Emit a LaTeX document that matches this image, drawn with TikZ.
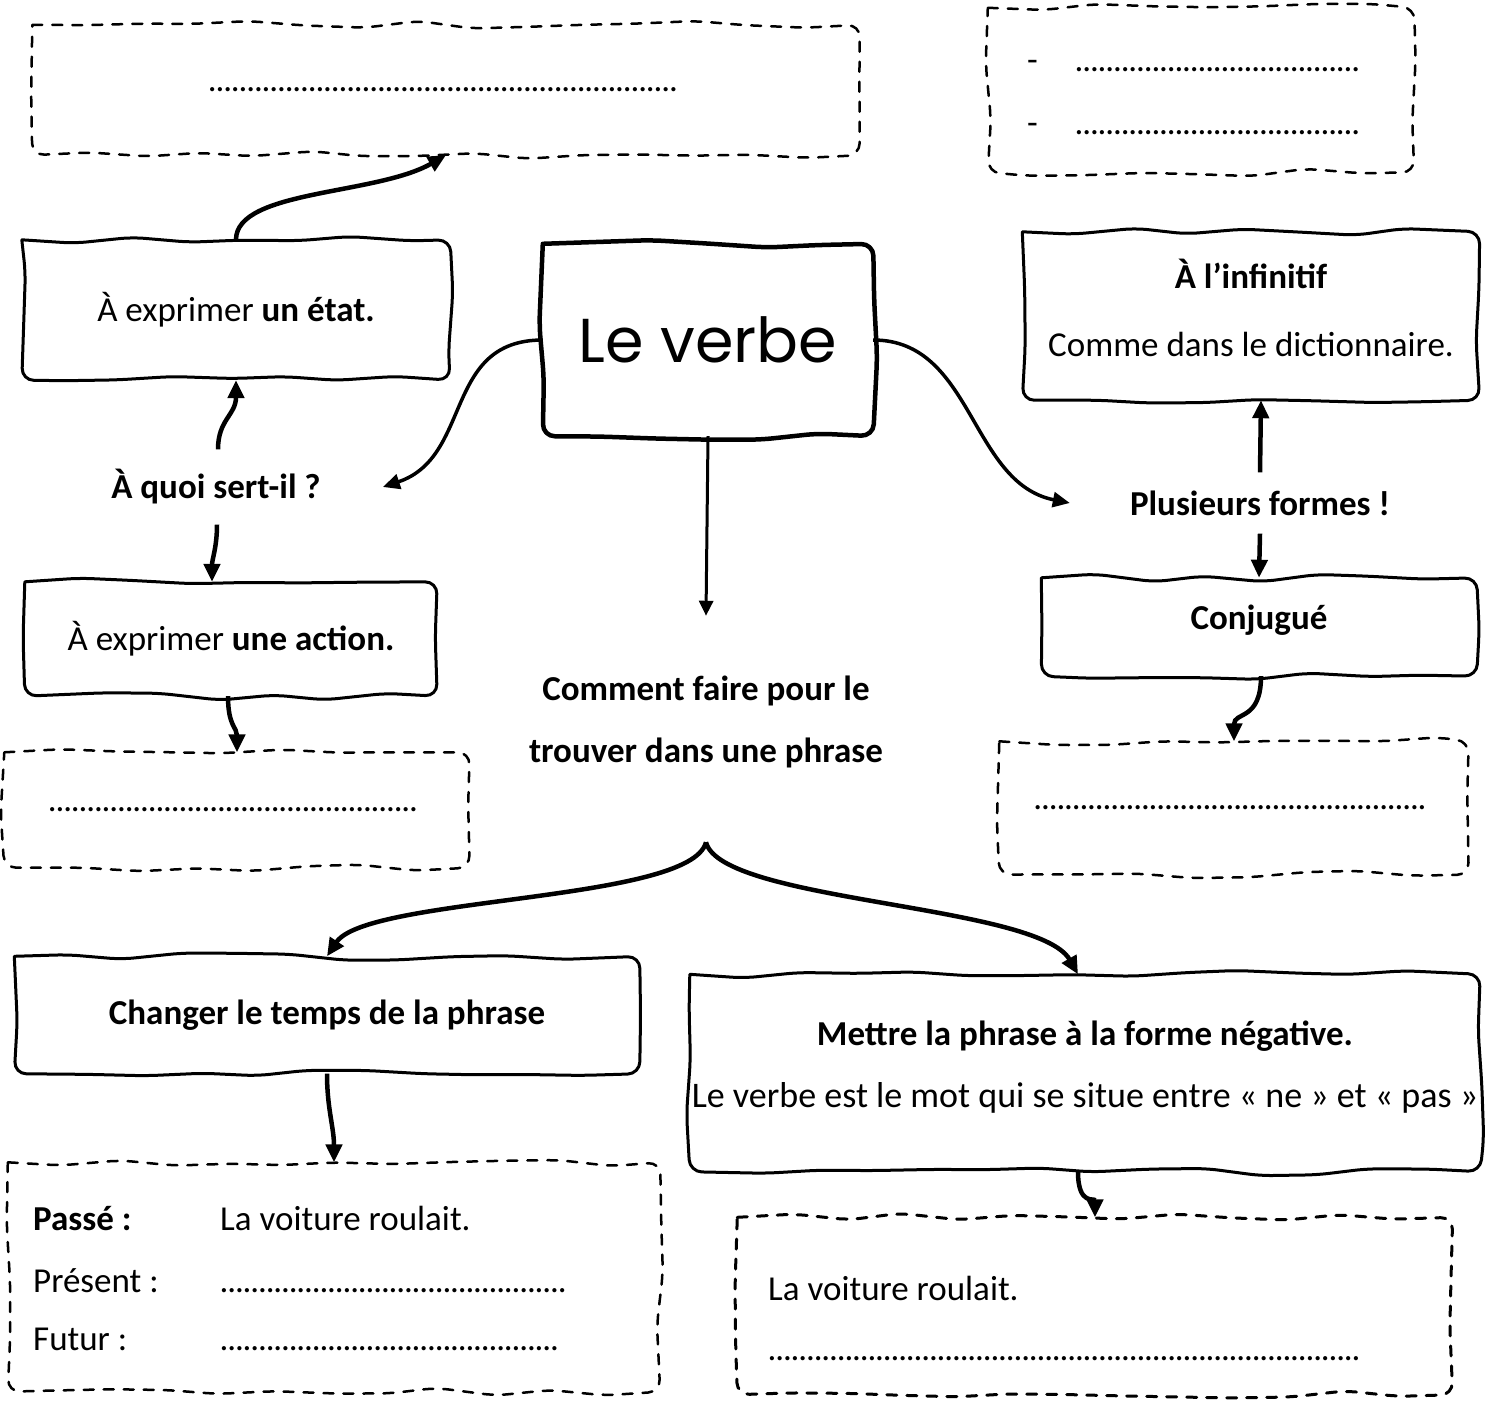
\documentclass[tikz,border=0pt]{standalone}
\usepackage{fontspec}
\setmainfont{Carlito}
\newfontfamily\titrefont{Poppins}
\usetikzlibrary{arrows.meta,decorations.pathmorphing,positioning}

\newcommand\lignepoints[1]{\hbox to #1{\leaders\hbox to 7.7pt{\hss.\hss}\hfill}}
% bord ondule d'un cadre, cote par cote
\newcommand\bordure[2][]{%
  \draw[trait,#1] (#2.north west) decorate{-- (#2.north east)} decorate{-- (#2.south east)}
    decorate{-- (#2.south west)} decorate{-- (#2.north west)};}

\tikzset{
  texte/.style={font=\fontsize{35}{40}\selectfont, inner sep=0pt},
  texteg/.style={font=\fontsize{35}{40}\selectfont\bfseries, inner sep=0pt},
  cadre/.style={inner sep=0pt, align=center, font=\fontsize{35}{66}\selectfont},
  trait/.style={line width=3pt, line cap=round, line join=round,
    decoration={random steps,segment length=55pt,amplitude=4pt}, rounded corners=12pt},
  traitvide/.style={line width=2.5pt, dash pattern=on 10pt off 10pt},
  fleche/.style={-{Triangle[length=18pt,width=16pt]}, line width=4.5pt},
  flechev/.style={-{Triangle[length=17pt,width=15pt]}, line width=3.5pt},
  flechefine/.style={-{Triangle[length=15pt,width=14pt]}, line width=3pt},
}

\begin{document}
\begin{tikzpicture}[x=1pt,y=1pt]
\pgfmathsetseed{12}
\useasboundingbox (0,0) rectangle (1494,-1407);

% titre
\node[cadre, minimum width=330pt, minimum height=192pt,
  font=\titrefont\fontsize{62}{70}\selectfont] (verbe) at (708,-340) {Le verbe};
\bordure[line width=4.5pt]{verbe}

% a quoi sert-il
\node[texteg, inner xsep=62pt, inner ysep=20pt] (quoi) at (216,-487) {À quoi sert-il ?};
\node[cadre, minimum width=428pt, minimum height=140pt] (etat) at (236,-310) {À exprimer \textbf{un état.}};
\bordure{etat}
\node[cadre, minimum width=827pt, minimum height=130pt] (hautgauche) at (446,-90) {\lignepoints{475pt}};
\bordure[traitvide]{hautgauche}
\node[cadre, minimum width=412pt, minimum height=114pt] (action) at (231,-639) {À exprimer \textbf{une action.}};
\bordure{action}
\node[cadre, minimum width=465pt, minimum height=115pt] (actionvide) at (237,-810) {\lignepoints{377pt}};
\bordure[traitvide]{actionvide}

% plusieurs formes
\node[texteg, inner xsep=60pt, inner ysep=18pt] (plusieurs) at (1260,-503) {Plusieurs formes !};
\node[cadre, minimum width=457pt, minimum height=168pt, text depth=16pt,
  font=\fontsize{35}{68}\selectfont] (infinitif) at (1251,-316)
  {\textbf{À l’infinitif}\\Comme dans le dictionnaire.};
\bordure{infinitif}
\node[cadre, minimum width=426pt, minimum height=164pt] (hautdroite) at (1201,-90) {};
\bordure[traitvide]{hautdroite}
\node[texte, anchor=base west] (tiret1) at (1027,-72) {-};
\node[texte, anchor=base west] (points1) at (1075,-72) {\lignepoints{286pt}};
\node[texte, anchor=base west] (tiret2) at (1027,-135) {-};
\node[texte, anchor=base west] (points2) at (1075,-135) {\lignepoints{286pt}};
\node[cadre, minimum width=435pt, minimum height=98pt, text depth=19pt] (conjugue) at (1259,-627) {\textbf{Conjugué}};
\bordure{conjugue}
\node[cadre, minimum width=469pt, minimum height=133pt] (conjvide) at (1234,-808) {\lignepoints{400pt}};
\bordure[traitvide]{conjvide}

% comment le trouver
\node[texteg, align=center, font=\fontsize{35}{62}\selectfont\bfseries, inner ysep=60pt] (comment) at (706,-722)
  {Comment faire pour le\\trouver dans une phrase};
\node[cadre, minimum width=625pt, minimum height=117pt] (changer) at (327,-1015) {\textbf{Changer le temps de la phrase}};
\bordure{changer}
\node[cadre, minimum width=790pt, minimum height=197pt, text depth=17pt, font=\fontsize{35}{62}\selectfont] (mettre) at (1085,-1073)
  {\textbf{Mettre la phrase à la forme négative.}\\{\fontsize{36}{62}\selectfont Le verbe est le mot qui se situe entre « ne » et « pas »}};
\bordure{mettre}

\node[cadre, minimum width=652pt, minimum height=229pt] (basgauche) at (334,-1277) {};
\bordure[traitvide]{basgauche}
\node[texteg, anchor=base west] (passe) at (33,-1230) {Passé :};
\node[texte, anchor=base west] (passeex) at (220,-1230) {La voiture roulait.};
\node[texte, anchor=base west] (present) at (33,-1292) {Présent :};
\node[texte, anchor=base west] (presentpts) at (220,-1292) {\lignepoints{347pt}};
\node[texte, anchor=base west] (futur) at (33,-1350) {Futur :};
\node[texte, anchor=base west] (futurpts) at (220,-1350) {\lignepoints{345pt}};

\node[cadre, minimum width=715pt, minimum height=177pt] (basdroite) at (1095,-1306) {};
\bordure[traitvide, line width=3pt]{basdroite}
\node[texte, anchor=base west] (negex) at (768,-1300) {La voiture roulait.};
\node[texte, anchor=base west] (negpts) at (768,-1360) {\lignepoints{600pt}};

% fleches
\draw[flechev] (verbe.west) .. controls +(-100,0) and +(90,30) .. (quoi.east);
\draw[flechev] (verbe.east) .. controls +(100,0) and +(-100,20) .. (plusieurs.west);
\draw[flechefine] (verbe.south) -- (comment.north);

\draw[fleche] (etat.north) .. controls +(0,50) and +(-70,-40) .. (hautgauche.south);
\draw[fleche] ([xshift=2pt]quoi.north) .. controls +(0,30) and +(0,-35) .. (etat.south);
\draw[fleche] ([xshift=1pt]quoi.south) to[out=-90,in=90] ([xshift=-19pt]action.north);
\draw[fleche] ([xshift=-3pt]action.south) .. controls +(0,-30) and +(0,25) .. (actionvide.north);

\draw[fleche] (plusieurs.north) -- ([xshift=10pt]infinitif.south);
\draw[fleche] (plusieurs.south) -- (conjugue.north);
\draw[fleche] ([xshift=2pt]conjugue.south) .. controls +(0,-45) and +(0,30) .. (conjvide.north);

\draw[fleche] ([yshift=-14pt]comment.south) .. controls +(-15,-60) and +(40,60) .. (changer.north);
\draw[fleche] ([yshift=-14pt]comment.south) .. controls +(15,-60) and +(-40,70) .. ([xshift=-7pt]mettre.north);
\draw[fleche] (changer.south) to[out=-90,in=90] (basgauche.north);
\draw[fleche] ([xshift=-7pt]mettre.south) .. controls +(0,-35) and +(0,20) .. (basdroite.north);
\end{tikzpicture}
\end{document}
